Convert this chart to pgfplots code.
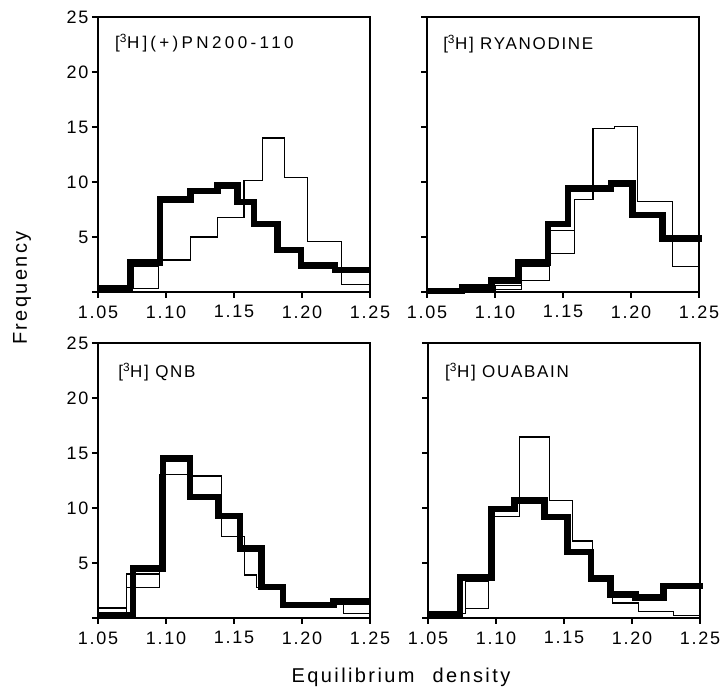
\documentclass[border=0pt]{standalone}
\usepackage{fontspec}
\setmainfont{Liberation Sans}
\newfontfamily\trackfont{Liberation Sans}[LetterSpace=10]
\newfontfamily\trackfontB{Liberation Sans}[LetterSpace=20]
\newfontfamily\labtrack{Liberation Sans}[LetterSpace=12]
\usepackage{pgfplots}
\pgfplotsset{compat=1.18}
\newcommand\tickfont{\trackfont\fontsize{18}{20}\selectfont}
\newcommand\titlefont{\trackfont\fontsize{17}{19}\selectfont}
\newcommand\titlefontB{\trackfontB\fontsize{17}{19}\selectfont}
\newcommand\labfont{\labtrack\fontsize{20}{22}\selectfont}
\pgfplotsset{
  panel/.style={
    width=272pt, height=275pt, scale only axis,
    xmin=1.05, xmax=1.25, ymin=0, ymax=25,
    axis line style={line width=1.6pt},
    every tick/.style={line width=1.3pt, black},
    major tick length=6pt, tick align=outside,
    xtick pos=bottom, ytick pos=left,
    xtick={1.05,1.1,1.15,1.2,1.25},
    xticklabels={1.05,1.10,1.15,1.20,1.25},
    ytick={0,5,10,15,20,25},
    tick label style={font=\tickfont},
    xticklabel style={yshift=-4pt},
    /pgf/number format/assume math mode=true,
    clip=false, anchor=south west,
  },
  leftp/.style={yticklabels={,5,10,15,20,25}},
  rightp/.style={yticklabels={}},
  thinh/.style={black, line width=1.2pt, const plot, mark=none, line join=miter},
  thickh/.style={black, line width=6.5pt, const plot, mark=none, line join=miter},
  rect/.style={black, line width=1.2pt, mark=none, line join=miter},
}
\begin{document}
\begin{tikzpicture}[x=1pt,y=1pt]
\useasboundingbox (0,0) rectangle (728,693);
% top left
\begin{axis}[panel, leftp, at={(98pt,401pt)}]
\addplot[thinh] coordinates {(1.05,0.5)(1.0759,0.3)(1.0944,2.9)(1.1179,5.0)(1.1377,6.8)(1.1574,10.1)(1.171,14.0)(1.187,10.4)(1.2043,4.6)(1.229,0.7)(1.25,0.7)};
\addplot[rect] coordinates {(1.0759,0.3)(1.0759,2.3)(1.0944,2.3)(1.0944,0.3)};
\addplot[thickh] coordinates {(1.05,0.3)(1.0735,2.7)(1.0957,8.4)(1.118,9.2)(1.1377,9.7)(1.1525,8.2)(1.1648,6.2)(1.1821,3.8)(1.1994,2.4)(1.2241,2.0)(1.25,2.0)};
\node[anchor=base west, font=\titlefontB, inner sep=0pt] at (rel axis cs:0.0625,0.885) {[\textsuperscript{3}H]\,(+)PN200-110};
\end{axis}
% top right
\begin{axis}[panel, rightp, at={(427pt,401pt)}]
\addplot[thinh] coordinates {(1.05,0.05)(1.1,0.2)(1.1195,1.05)(1.1402,3.5)(1.1585,8.4)(1.172,14.85)(1.1878,15.05)(1.2049,8.2)(1.2305,2.3)(1.25,2.3)};
\addplot[rect] coordinates {(1.1,0.2)(1.1,0.6)(1.1195,0.6)(1.1195,0.2)};
\addplot[rect] coordinates {(1.1195,1.05)(1.1195,2.3)(1.1402,2.3)(1.1402,1.05)};
\addplot[rect] coordinates {(1.1402,3.5)(1.1402,5.6)(1.1585,5.6)(1.1585,3.5)};
\addplot[thickh] coordinates {(1.05,0.1)(1.0756,0.4)(1.0976,1.05)(1.1171,2.7)(1.139,6.2)(1.1537,9.4)(1.1854,9.85)(1.2012,7.0)(1.2232,4.85)(1.252,4.85)};
\node[anchor=base west, font=\titlefont, inner sep=0pt] at (rel axis cs:0.059,0.88) {[\textsuperscript{3}H] RYANODINE};
\end{axis}
% bottom left
\begin{axis}[panel, leftp, at={(98pt,75pt)}]
\addplot[thinh] coordinates {(1.05,0.45)(1.0709,2.8)(1.0954,13.05)(1.1175,12.9)(1.1408,7.4)(1.158,3.9)(1.1666,2.8)(1.1862,1.2)(1.2304,0.4)(1.25,0.4)};
\addplot[rect] coordinates {(1.05,0.45)(1.05,0.9)(1.0709,0.9)(1.0709,0.45)};
\addplot[rect] coordinates {(1.0709,2.8)(1.0709,4.0)(1.0954,4.0)(1.0954,2.8)};
\addplot[thickh] coordinates {(1.05,0.25)(1.0758,4.5)(1.0979,14.5)(1.1175,11.0)(1.1383,9.25)(1.1543,6.3)(1.1702,2.8)(1.1862,1.2)(1.223,1.5)(1.25,1.5)};
\node[anchor=base west, font=\titlefont, inner sep=0pt] at (rel axis cs:0.074,0.873) {[\textsuperscript{3}H] QNB};
\end{axis}
% bottom right
\begin{axis}[panel, rightp, at={(428pt,75pt)}]
\addplot[thinh] coordinates {(1.05,0.4)(1.0773,0.85)(1.0943,9.2)(1.1174,16.45)(1.1393,10.7)(1.1563,7.0)(1.1709,3.3)(1.1855,1.36)(1.205,0.6)(1.2305,0.25)(1.25,0.25)};
\addplot[rect] coordinates {(1.0773,0.85)(1.0773,3.3)(1.0943,3.3)(1.0943,0.85)};
\addplot[thickh] coordinates {(1.05,0.35)(1.0736,3.7)(1.0967,9.9)(1.1137,10.7)(1.1356,9.2)(1.1527,6.0)(1.1697,3.6)(1.1843,2.15)(1.2026,1.85)(1.2232,2.9)(1.252,2.9)};
\node[anchor=base west, font=\titlefont, inner sep=0pt] at (rel axis cs:0.0625,0.873) {[\textsuperscript{3}H] OUABAIN};
\end{axis}
\node[rotate=90, font=\labfont] at (22,405) {Frequency};
\node[anchor=base, font=\labfont] at (401,10) {Equilibrium\hspace{0.9em}density};
\end{tikzpicture}
\end{document}
